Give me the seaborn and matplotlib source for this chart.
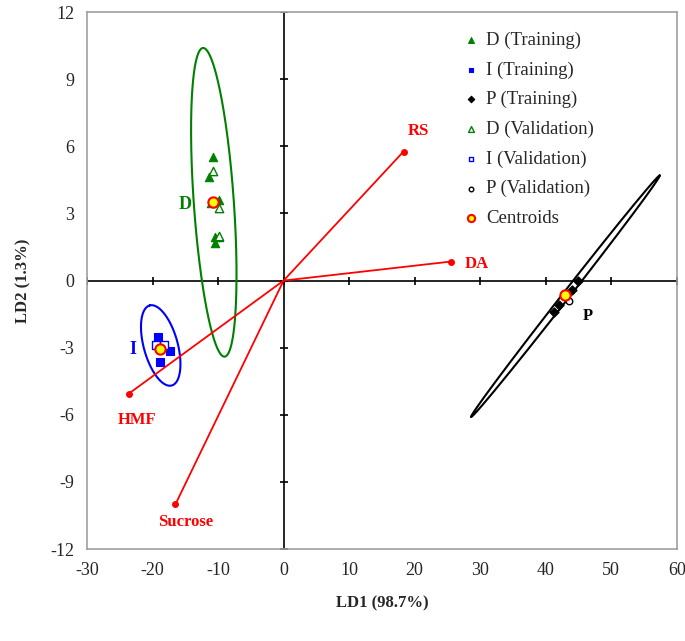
import numpy as np
import pandas as pd
import matplotlib
matplotlib.use('Agg')
import matplotlib.pyplot as plt
import seaborn as sns

# scores
d_train_x = [-10.7, -11.4, -11.1, -9.9, -10.4, -9.8, -10.4]
d_train_y = [5.54, 4.65, 3.49, 3.62, 1.97, 1.97, 1.70]
d_valid_x = [-10.8, -9.9, -9.8]
d_valid_y = [4.90, 3.26, 2.00]
i_train_x = [-19.1, -17.4, -18.8]
i_train_y = [-2.50, -3.13, -3.66]
i_valid_x = [-19.4, -18.3]
i_valid_y = [-2.86, -2.90]
p_train_x = [44.9, 44.0, 42.1, 41.3]
p_train_y = [-0.03, -0.40, -1.07, -1.42]
p_valid_x = [43.6]
p_valid_y = [-0.93]
cent_x = [-10.8, -18.9, 43.0]
cent_y = [3.53, -3.08, -0.63]

# loadings
var_names = ['RS', 'DA', 'HMF', 'Sucrose']
load_x = [18.3, 25.5, -23.6, -16.5]
load_y = [5.77, 0.85, -5.05, -10.0]

# ellipses: centre, half major axis, half minor axis (data units)
ell_names = ['D', 'I', 'P']
ell_cx = [-10.65, -18.75, 43.0]
ell_cy = [3.5, -2.9, -0.7]
ell_major = [(-1.65, 6.9), (-1.68, 1.79), (14.4, 5.4)]
ell_minor = [(3.05, 0.06), (2.5, 0.2), (0.42, -0.1)]
ell_colors = ['#008000', '#0000ff', '#000000']

sns.set_style('white')
plt.rcParams['font.family'] = ['Liberation Serif', 'DejaVu Serif']
plt.rcParams['axes.unicode_minus'] = False

fig = plt.figure(figsize=(6.85, 6.41), dpi=100)
ax = fig.add_axes([0.127, 0.1435, 0.861, 0.8375])

# ellipses
t = np.linspace(0, 2 * np.pi, 300)
for k in range(3):
    ex = ell_cx[k] + np.cos(t) * ell_major[k][0] + np.sin(t) * ell_minor[k][0]
    ey = ell_cy[k] + np.cos(t) * ell_major[k][1] + np.sin(t) * ell_minor[k][1]
    ax.plot(ex, ey, color=ell_colors[k], lw=1.5, zorder=2)

# centre axes with ticks
ax.axhline(0, color='black', lw=1.2, zorder=1)
ax.axvline(0, color='black', lw=1.2, zorder=1)
xt = np.arange(-30, 61, 10)
yt = np.arange(-12, 13, 3)
ax.plot(xt, np.zeros_like(xt), ls='none', marker='|', ms=6, mew=1.2, color='black')
ax.plot(np.zeros_like(yt), yt, ls='none', marker='_', ms=6, mew=1.2, color='black')

# loading vectors
for name, lx, ly in zip(var_names, load_x, load_y):
    ax.plot([0, lx], [0, ly], color='red', lw=1.3, zorder=2)
    ax.plot(lx, ly, 'o', color='red', ms=4, zorder=3)
lab_off = {'RS': (2.3, 0.9), 'DA': (4.0, -0.1), 'HMF': (1.2, -1.2), 'Sucrose': (1.6, -0.8)}
for name, lx, ly in zip(var_names, load_x, load_y):
    dx, dy = lab_off[name]
    ax.text(lx + dx, ly + dy, name, color='red', fontsize=12, fontweight='bold',
            ha='center', va='center')

# group labels
ax.text(-15.0, 3.4, 'D', color='#008000', fontsize=13, fontweight='bold', ha='center', va='center')
ax.text(-23.0, -3.1, 'I', color='#0000ff', fontsize=13, fontweight='bold', ha='center', va='center')
ax.text(46.5, -1.6, 'P', color='black', fontsize=12, fontweight='bold', ha='center', va='center')

# points
sns.scatterplot(x=d_train_x, y=d_train_y, marker='^', color='#008000', s=36, edgecolor='#008000',
                linewidth=0.8, label='D (Training)', ax=ax, zorder=4)
sns.scatterplot(x=i_train_x, y=i_train_y, marker='s', color='#0000ff', s=26, edgecolor='#0000ff',
                linewidth=0.8, label='I (Training)', ax=ax, zorder=4)
sns.scatterplot(x=p_train_x, y=p_train_y, marker='D', color='black', s=22, edgecolor='black',
                linewidth=0.8, label='P (Training)', ax=ax, zorder=4)
sns.scatterplot(x=d_valid_x, y=d_valid_y, marker='^', facecolor='white', s=36, edgecolor='#008000',
                linewidth=1.0, label='D (Validation)', ax=ax, zorder=4)
sns.scatterplot(x=i_valid_x, y=i_valid_y, marker='s', facecolor='white', s=26, edgecolor='#0000ff',
                linewidth=1.0, label='I (Validation)', ax=ax, zorder=4)
sns.scatterplot(x=p_valid_x, y=p_valid_y, marker='o', facecolor='white', s=22, edgecolor='black',
                linewidth=1.0, label='P (Validation)', ax=ax, zorder=4)
sns.scatterplot(x=cent_x, y=cent_y, marker='o', facecolor='#ffff00', s=55, edgecolor='red',
                linewidth=1.5, label='Centroids', ax=ax, zorder=5)

ax.set_xlim(-30, 60)
ax.set_ylim(-12, 12)
ax.set_xticks(xt)
ax.set_yticks(yt)
ax.tick_params(length=0, labelsize=13, pad=9)
for s in ax.spines.values():
    s.set_color('#a0a0a0')
    s.set_linewidth(1.2)
ax.set_xlabel('LD1 (98.7%)', fontsize=12, fontweight='bold', labelpad=12)
ax.set_ylabel('LD2 (1.3%)', fontsize=12, fontweight='bold', labelpad=14)

leg = ax.legend(loc='upper left', frameon=False, fontsize=13.5, handletextpad=0.3,
                handlelength=1.0, labelspacing=0.66, markerscale=0.7,
                bbox_to_anchor=(0.607, 0.995))

fig.savefig('out.png', dpi=100)
